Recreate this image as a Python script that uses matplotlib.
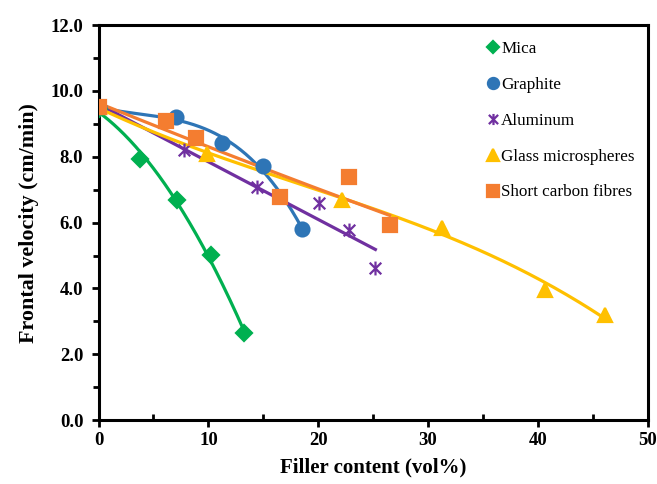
import numpy as np
import matplotlib
matplotlib.use('Agg')
import matplotlib.pyplot as plt
from matplotlib.path import Path
from matplotlib.ticker import MultipleLocator, FormatStrFormatter

plt.rcParams['font.family'] = ['Liberation Serif', 'DejaVu Serif']

# data
mica_x = [0, 3.8, 7.1, 10.2, 13.2]
mica_y = [9.45, 7.93, 6.69, 5.02, 2.64]
graphite_x = [0, 7.05, 11.2, 14.95, 18.5]
graphite_y = [9.5, 9.21, 8.42, 7.72, 5.8]
alu_x = [0, 7.8, 14.4, 20.1, 22.8, 25.2]
alu_y = [9.5, 8.2, 7.08, 6.6, 5.78, 4.62]
glass_x = [0, 9.9, 22.2, 31.3, 40.6, 46.1]
glass_y = [9.5, 8.1, 6.69, 5.84, 3.95, 3.19]
carbon_x = [0, 6.1, 8.9, 16.5, 22.8, 26.5]
carbon_y = [9.5, 9.09, 8.57, 6.78, 7.39, 5.93]

# excel-like star: an X with a vertical bar through it
star = Path([(-1, -1), (1, 1), (-1, 1), (1, -1), (0, -1.2), (0, 1.2)],
            [Path.MOVETO, Path.LINETO, Path.MOVETO, Path.LINETO, Path.MOVETO, Path.LINETO])

series = [
    ('Mica', mica_x, mica_y, 'D', '#00B050', 2, 8),
    ('Graphite', graphite_x, graphite_y, 'o', '#2E75B6', 3, 10),
    ('Aluminum', alu_x, alu_y, star, '#7030A0', 1, 10),
    ('Glass microspheres', glass_x, glass_y, '^', '#FFC000', 3, 10),
    ('Short carbon fibres', carbon_x, carbon_y, 's', '#F47D30', 2, 10),
]

fig = plt.figure(figsize=(6.57, 4.84), dpi=100)
ax = fig.add_axes([0.15, 0.132, 0.836, 0.816])

for name, x, y, mk, col, order, ms in series:
    coef = np.polyfit(x, y, order)
    xs = np.linspace(0, max(x), 200)
    ax.plot(xs, np.polyval(coef, xs), color=col, lw=2.3, zorder=2)
    ax.plot(x, y, linestyle='none', marker=mk, color=col, markersize=ms,
            markeredgewidth=1.6, label=name, zorder=3)

ax.set_xlim(0, 50)
ax.set_ylim(0, 12)
ax.xaxis.set_major_locator(MultipleLocator(10))
ax.xaxis.set_minor_locator(MultipleLocator(5))
ax.yaxis.set_major_locator(MultipleLocator(2))
ax.yaxis.set_minor_locator(MultipleLocator(1))
ax.yaxis.set_major_formatter(FormatStrFormatter('%.1f'))

for s in ax.spines.values():
    s.set_linewidth(2.2)
ax.tick_params(which='major', direction='out', length=5, width=2, labelsize=13.5)
ax.tick_params(axis='y', which='major', pad=6)
ax.tick_params(axis='x', which='minor', direction='in', length=4, width=2)
ax.tick_params(axis='y', which='minor', direction='out', length=4, width=2)
for lab in ax.get_xticklabels() + ax.get_yticklabels():
    lab.set_fontweight('bold')

ax.set_xlabel('Filler content (vol%)', fontsize=15, fontweight='bold', labelpad=6)
ax.set_ylabel('Frontal velocity (cm/min)', fontsize=15.8, fontweight='bold', labelpad=8)

leg = ax.legend(loc='upper left', bbox_to_anchor=(0.68, 1.0), frameon=False,
                fontsize=12.3, handlelength=0.6, handletextpad=0.2,
                labelspacing=1.17, markerscale=0.8)

fig.savefig('out.png', dpi=100)
